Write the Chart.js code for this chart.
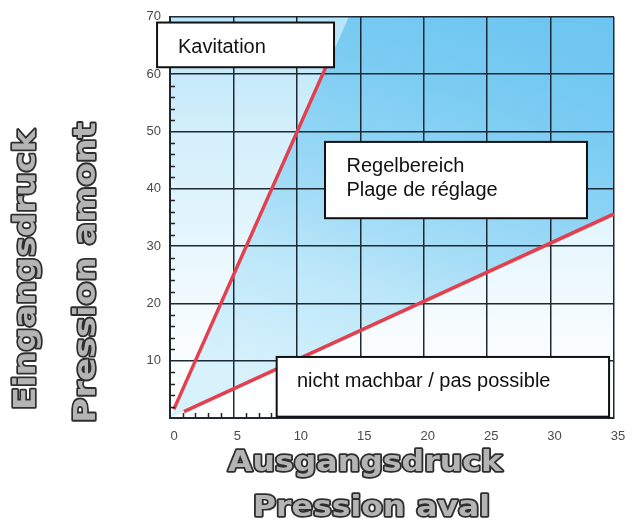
<!DOCTYPE html>
<html>
<head>
<meta charset="utf-8">
<script src="https://cdn.jsdelivr.net/npm/chart.js@4/dist/chart.umd.min.js"></script>
<style>
html,body{margin:0;padding:0;background:#ffffff;}
#wrap{width:634px;height:526px;}
</style>
</head>
<body>
<div id="wrap"><canvas id="c" width="634" height="526"></canvas></div>
<script>
// ---- data ----
const xTickValues = [0, 5, 10, 15, 20, 25, 30, 35];
const yTickValues = [10, 20, 30, 40, 50, 60, 70];
const steepLine = [{x: 0.3, y: 1.5}, {x: 12.3, y: 61.3}];      // Kavitation limit
const lowerLine = [{x: 1.1, y: 1.1}, {x: 35, y: 35.6}];        // nicht machbar limit
const steepBoundary = [{x: 0, y: 0}, {x: 14.1, y: 70}];
const lowerBoundary = [{x: 0, y: 0}, {x: 35, y: 35.6}];
const topBoundary = [{x: 0, y: 70}, {x: 35, y: 70}];
const boxTexts = [["Kavitation"], ["Regelbereich", "Plage de réglage"], ["nicht machbar / pas possible"]];
const xTitles = ["Ausgangsdruck", "Pression aval"];
const yTitles = ["Eingangsdruck", "Pression amont"];

// ---- styling helpers ----
function lightGrad(ctx) {
  const chart = ctx.chart, ca = chart.chartArea;
  if (!ca) return '#e0f4fc';
  const g = chart.ctx.createLinearGradient(0, ca.top, 0, ca.bottom);
  g.addColorStop(0, '#b9e5f8');
  g.addColorStop(0.28, '#d2effb');
  g.addColorStop(0.55, '#e5f6fd');
  g.addColorStop(0.78, '#f7fcfe');
  g.addColorStop(1, '#ffffff');
  return g;
}
function darkGrad(ctx) {
  const chart = ctx.chart, ca = chart.chartArea;
  if (!ca) return '#8ed4f5';
  const ax = ca.right, ay = ca.top;
  const vx = -144 * 1.1, vy = (ca.bottom - ca.top) * 1.1;
  const g = chart.ctx.createLinearGradient(ax, ay, ax + vx, ay + vy);
  g.addColorStop(0, '#6cc5f0');
  g.addColorStop(0.1, '#70c7f1');
  g.addColorStop(0.24, '#79cbf2');
  g.addColorStop(0.43, '#8ed4f5');
  g.addColorStop(0.61, '#a8def7');
  g.addColorStop(0.72, '#bce7f9');
  g.addColorStop(1, '#d8f2fc');
  return g;
}

const boxes = [
  {x0: -1.02, x1: 12.93, y0: 61.2, y1: 69.0, tx: 0.63, ty: [63.6]},
  {x0: 12.22, x1: 32.87, y0: 34.86, y1: 48.17, tx: 13.91, ty: [42.96, 38.74]},
  {x0: 8.41, x1: 34.61, y0: 0.23, y1: 10.65, tx: 10.01, ty: [5.38]}
];

function drawTitle(ctx, text, x, y, w, size, rot) {
  ctx.save();
  ctx.translate(x, y);
  if (rot) ctx.rotate(-Math.PI / 2);
  ctx.font = 'bold ' + size + 'px "DejaVu Sans"';
  const m = ctx.measureText(text).width;
  ctx.scale(w / m, 1);
  ctx.textAlign = 'center';
  ctx.textBaseline = 'alphabetic';
  ctx.lineJoin = 'round';
  ctx.lineWidth = 3.4;
  ctx.strokeStyle = '#2e2e2e';
  ctx.strokeText(text, 0, 0);
  ctx.fillStyle = '#b4b4b4';
  ctx.fillText(text, 0, 0);
  ctx.restore();
}

const overlay = {
  id: 'overlay',
  afterDraw(chart) {
    const ctx = chart.ctx, xs = chart.scales.x, ys = chart.scales.y, ca = chart.chartArea;
    // minor ticks
    ctx.save();
    ctx.strokeStyle = '#222';
    ctx.lineWidth = 1.5;
    ctx.beginPath();
    for (let v = 2; v < 70; v += 2) {
      if (v % 10 === 0) continue;
      const py = Math.round(ys.getPixelForValue(v)) + 0.5;
      ctx.moveTo(ca.left, py); ctx.lineTo(ca.left + 5, py);
    }
    for (let v = 1; v < 35; v += 1) {
      if (v % 5 === 0) continue;
      const px = Math.round(xs.getPixelForValue(v)) + 0.5;
      ctx.moveTo(px, ca.bottom); ctx.lineTo(px, ca.bottom - 5);
    }
    ctx.stroke();
    ctx.restore();
    // boxes
    boxes.forEach((b, i) => {
      const l = xs.getPixelForValue(b.x0), r = xs.getPixelForValue(b.x1);
      const t = ys.getPixelForValue(b.y1), bt = ys.getPixelForValue(b.y0);
      ctx.save();
      ctx.fillStyle = '#ffffff';
      ctx.fillRect(l, t, r - l, bt - t);
      ctx.strokeStyle = '#111';
      ctx.lineWidth = 2;
      ctx.strokeRect(l, t, r - l, bt - t);
      ctx.fillStyle = '#111';
      ctx.font = '20px "Liberation Sans", Arial, sans-serif';
      ctx.textAlign = 'left';
      ctx.textBaseline = 'alphabetic';
      boxTexts[i].forEach((line, k) => {
        ctx.fillText(line, xs.getPixelForValue(b.tx), ys.getPixelForValue(b.ty[k]));
      });
      ctx.restore();
    });
    // axis titles
    drawTitle(ctx, xTitles[0], 365, 471, 274, 29, false);
    drawTitle(ctx, xTitles[1], 371.5, 516, 237, 29, false);
    drawTitle(ctx, yTitles[0], 35, 270, 280, 31, true);
    drawTitle(ctx, yTitles[1], 95, 272.5, 301, 31, true);
  }
};

const gridColor = '#1f2833';

new Chart(document.getElementById('c'), {
  type: 'line',
  data: {
    datasets: [
      {label: 'Kavitation', data: steepLine, borderColor: '#e2404f', borderWidth: 3.5, pointRadius: 0, fill: false, order: 1},
      {label: 'nicht machbar', data: lowerLine, borderColor: '#e2404f', borderWidth: 3.5, pointRadius: 0, fill: false, order: 2},
      {label: 'kavFill', data: steepBoundary, borderWidth: 0, borderColor: 'rgba(0,0,0,0)', pointRadius: 0, fill: 'end', backgroundColor: lightGrad, order: 8},
      {label: 'regelFill', data: lowerBoundary, borderWidth: 0, borderColor: 'rgba(0,0,0,0)', pointRadius: 0, fill: 'end', backgroundColor: darkGrad, order: 9},
      {label: 'bg', data: topBoundary, borderWidth: 0, borderColor: 'rgba(0,0,0,0)', pointRadius: 0, fill: 'start', backgroundColor: lightGrad, order: 10}
    ]
  },
  options: {
    responsive: false,
    animation: false,
    layout: {padding: {top: 15, right: 20, left: 0, bottom: 0}},
    scales: {
      x: {
        type: 'linear', min: 0, max: 35,
        afterFit(s) { s.height = 108; },
        afterBuildTicks(s) { s.ticks = xTickValues.map(v => ({value: v})); },
        ticks: {padding: 11, labelOffset: 4, color: '#4a4a4a', font: {family: '"Liberation Sans", Arial', size: 13}},
        grid: {color: gridColor, lineWidth: 1.5, drawTicks: false},
        border: {color: gridColor, width: 2}
      },
      y: {
        type: 'linear', min: 0, max: 70,
        afterFit(s) { s.width = 170; },
        afterBuildTicks(s) { s.ticks = [0].concat(yTickValues).map(v => ({value: v})); },
        ticks: {padding: 9, color: '#4a4a4a', font: {family: '"Liberation Sans", Arial', size: 13},
          callback: v => (yTickValues.includes(v) ? String(v) : '')},
        grid: {color: gridColor, lineWidth: 1.5, drawTicks: false},
        border: {color: gridColor, width: 2}
      }
    },
    plugins: {
      legend: {display: false},
      tooltip: {enabled: false},
      filler: {drawTime: 'beforeDraw'}
    }
  },
  plugins: [overlay]
});
</script>
</body>
</html>
